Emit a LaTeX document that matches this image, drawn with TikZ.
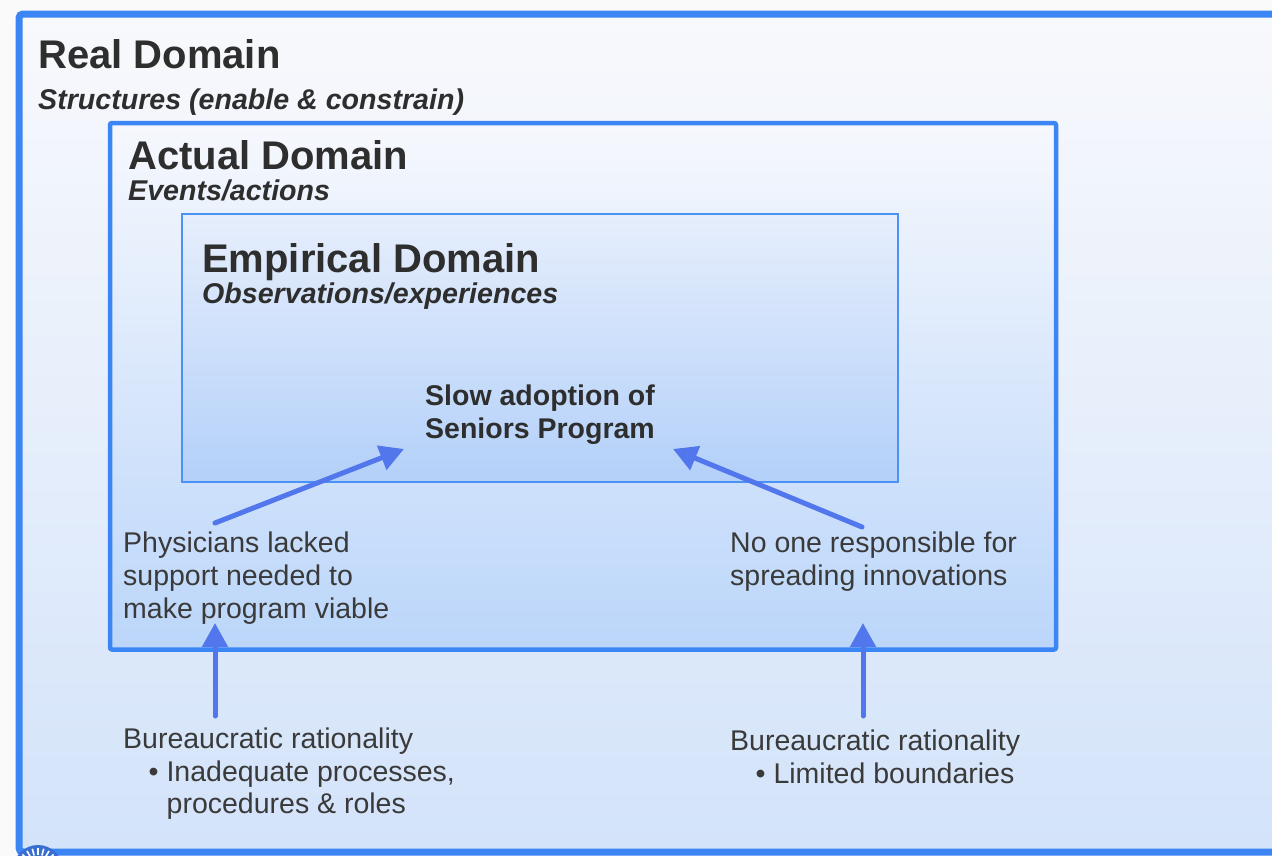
\documentclass[tikz,border=0pt]{standalone}
\usepackage{fontspec}
\setmainfont{Liberation Sans}
\usetikzlibrary{arrows.meta}

\definecolor{pagebg}{HTML}{FAFAFB}
\definecolor{frameblue}{HTML}{3C85F4}
\definecolor{innerblue}{HTML}{4A92F6}
\definecolor{arrowblue}{HTML}{5276EC}
\definecolor{titlegray}{HTML}{2E2E2E}
\definecolor{bodygray}{HTML}{3A3A3A}
\definecolor{realtop}{HTML}{F8F9FC}
\definecolor{realbot}{HTML}{D3E3FA}
\definecolor{acttop}{HTML}{F6F8FD}
\definecolor{actbot}{HTML}{BBD6FA}
\definecolor{emptop}{HTML}{E6EEFC}
\definecolor{empbot}{HTML}{B3D0F9}
\definecolor{badge}{HTML}{3A6FD2}

\begin{document}
\begin{tikzpicture}[x=1bp,y=-1bp,
  title/.style={anchor=base west, inner sep=0, text=titlegray,
    font=\fontsize{40bp}{48bp}\selectfont\bfseries},
  subtitle/.style={anchor=base west, inner sep=0, text=titlegray,
    font=\fontsize{28.6bp}{34bp}\selectfont\bfseries\itshape},
  body/.style={anchor=base west, inner sep=0, text=bodygray,
    font=\fontsize{28.5bp}{34bp}\selectfont},
  bodybold/.style={body, text=titlegray, font=\fontsize{28.5bp}{34bp}\selectfont\bfseries},
  cause/.style={draw=arrowblue, line width=5bp, line cap=round,
    -{Triangle[length=24bp,width=25bp]}}
]
\useasboundingbox (0,0) rectangle (1272,856);
\clip (0,0) rectangle (1272,856);
\fill[pagebg] (0,0) rectangle (1272,856);

% Real domain frame (runs off the right edge)
\path[draw=frameblue, line width=7bp, rounded corners=4bp,
  top color=realtop, bottom color=realbot] (19,14) rectangle (1300,852);

% Actual domain frame
\path[draw=frameblue, line width=4.5bp, rounded corners=2bp,
  top color=acttop, bottom color=actbot] (110,123) rectangle (1056,649.5);

% Empirical domain frame
\path[draw=innerblue, line width=2bp,
  top color=emptop, bottom color=empbot] (182,214) rectangle (898,482);

% Badge in the lower left corner
\begin{scope}
  \fill[badge] (38,870) circle (25);
  \foreach \a in {0,15,...,345}
    \draw[white, line width=1.6bp] (38,870) ++(\a:15) -- ++(\a:7);
\end{scope}

% Headings
\node[title] (realT) at (38,68) {Real Domain};
\node[subtitle] (realS) at (38,109) {Structures (enable \& constrain)};
\node[title] (actT) at (128,169) {Actual Domain};
\node[subtitle] (actS) at (128,200.5) {Events/actions};
\node[title] (empT) at (202,272) {Empirical Domain};
\node[subtitle] (empS) at (202,303) {Observations/experiences};

% Observed outcome
\node[bodybold] (slow1) at (425,405.5) {Slow adoption of};
\node[bodybold] (slow2) at (425,438.5) {Seniors Program};

% Events
\node[body] (phys1) at (123,552) {Physicians lacked};
\node[body] (phys2) at (123,585) {support needed to};
\node[body] (phys3) at (123,618) {make program viable};
\node[body] (none1) at (730,552) {No one responsible for};
\node[body] (none2) at (730,585) {spreading innovations};

% Structures
\node[body] (bur1) at (123,748) {Bureaucratic rationality};
\node[body] (bur2) at (148.5,781) {• Inadequate processes,};
\node[body] (bur3) at (166.5,813.5) {procedures \& roles};
\node[body] (bul1) at (730,750) {Bureaucratic rationality};
\node[body] (bul2) at (755.5,783) {• Limited boundaries};

% Arrow end points
\coordinate (physTail) at (215,523);
\coordinate (slowTipL) at (404,449);
\coordinate (noneTail) at (862,527);
\coordinate (slowTipR) at (673,449);
\coordinate (burTailL) at (215,716);
\coordinate (physTip) at (215,623);
\coordinate (burTailR) at (863,716);
\coordinate (noneTip) at (863,623);

\draw[cause] (physTail) -- (slowTipL);
\draw[cause] (noneTail) -- (slowTipR);
\draw[cause] (burTailL) -- (physTip);
\draw[cause] (burTailR) -- (noneTip);
\end{tikzpicture}
\end{document}
